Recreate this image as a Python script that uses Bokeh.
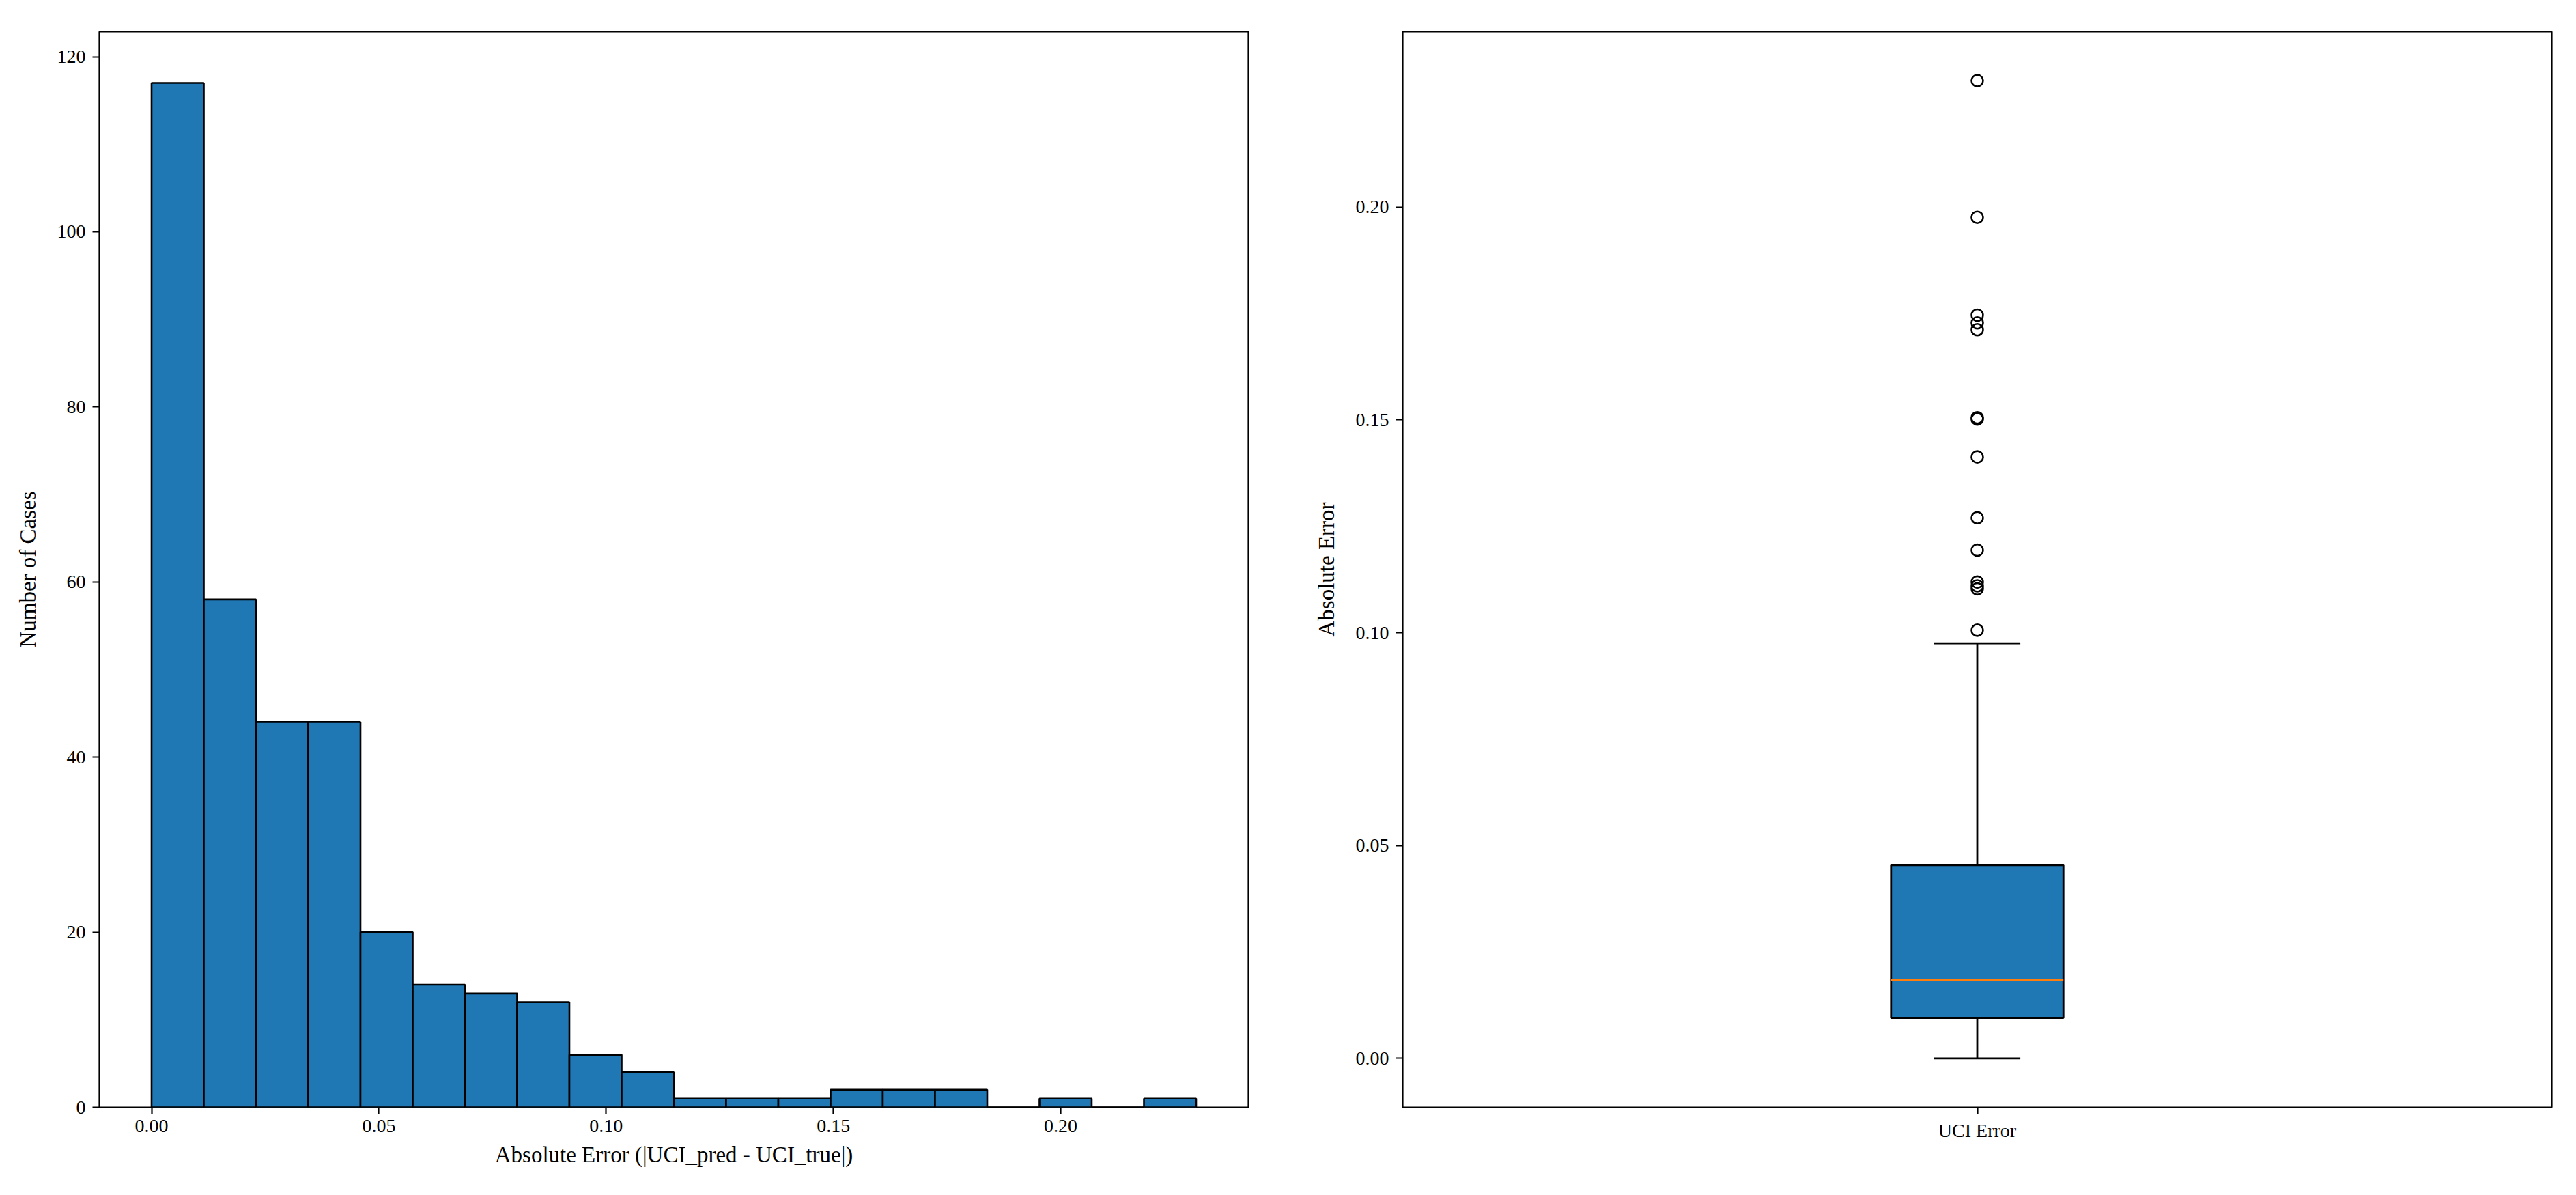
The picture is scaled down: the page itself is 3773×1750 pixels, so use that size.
import numpy as np
from bokeh.plotting import figure
from bokeh.layouts import row
from bokeh.models import Range1d, FixedTicker, NumeralTickFormatter, ColumnDataSource
from bokeh.embed import file_html
from bokeh.resources import INLINE

# ---------------- data ----------------
hist_counts = [117, 58, 44, 44, 20, 14, 13, 12, 6, 4, 1, 1, 1, 2, 2, 2, 0, 1, 0, 1]
err_min = 0.0
err_max = 0.2298

box_q1 = 0.0095
box_median = 0.0184
box_q3 = 0.0454
whisker_low = 0.0
whisker_high = 0.0975
outliers = [0.2297, 0.1976, 0.1746, 0.1728, 0.1712, 0.1505, 0.1502, 0.1413,
            0.1270, 0.1194, 0.1119, 0.1110, 0.1103, 0.1006]

hist_xticks = [0.0, 0.05, 0.10, 0.15, 0.20]
hist_yticks = [0, 20, 40, 60, 80, 100, 120]
box_yticks = [0.0, 0.05, 0.10, 0.15, 0.20]
box_category = "UCI Error"

# ---------------- style ----------------
FONT = "Liberation Serif"
BLUE = "#1f77b4"
ORANGE = "#ff7f0e"
TICK_SIZE = "28px"
LABEL_SIZE = "33px"


def style(p):
    p.outline_line_color = "black"
    p.outline_line_width = 2.2
    p.xgrid.visible = False
    p.ygrid.visible = False
    for ax in (p.xaxis, p.yaxis):
        ax.axis_line_color = None
        ax.major_tick_line_color = "black"
        ax.major_tick_line_width = 2.2
        ax.major_tick_out = 10
        ax.major_tick_in = 0
        ax.minor_tick_line_color = None
        ax.major_label_text_font = FONT
        ax.major_label_text_font_size = TICK_SIZE
        ax.major_label_text_color = "black"
        ax.axis_label_text_font = FONT
        ax.axis_label_text_font_size = LABEL_SIZE
        ax.axis_label_text_font_style = "normal"
        ax.axis_label_text_color = "black"
    p.xaxis.major_label_standoff = 8
    p.xaxis.axis_label_standoff = 12
    p.yaxis.major_label_standoff = 10
    p.yaxis.axis_label_standoff = 22
    p.yaxis.major_label_orientation = "horizontal"
    p.background_fill_color = "white"
    p.border_fill_color = "white"


# ---------------- histogram ----------------
edges = np.linspace(err_min, err_max, len(hist_counts) + 1)
margin_x = 0.05 * (err_max - err_min)
hist_src = ColumnDataSource(dict(left=edges[:-1], right=edges[1:],
                                 top=hist_counts, bottom=[0] * len(hist_counts)))

p1 = figure(width=1900, height=1750, output_backend="svg", toolbar_location=None,
            x_range=Range1d(err_min - margin_x, err_max + margin_x),
            y_range=Range1d(0, max(hist_counts) * 1.05),
            min_border_left=145, min_border_right=72, min_border_top=46,
            min_border_bottom=129)
p1.quad(left="left", right="right", top="top", bottom="bottom", source=hist_src,
        fill_color=BLUE, line_color="black", line_width=2.6)
style(p1)
p1.xaxis.ticker = FixedTicker(ticks=hist_xticks)
p1.xaxis.formatter = NumeralTickFormatter(format="0.00")
p1.yaxis.ticker = FixedTicker(ticks=hist_yticks)
p1.xaxis.axis_label = "Absolute Error (|UCI_pred - UCI_true|)"
p1.yaxis.axis_label = "Number of Cases"

# ---------------- box plot ----------------
pos = 1.0
box_w = 0.15
cap_w = box_w / 2
all_max = max(outliers + [whisker_high])
all_min = min([whisker_low, box_q1])
margin_y = 0.05 * (all_max - all_min)

p2 = figure(width=1873, height=1750, output_backend="svg", toolbar_location=None,
            x_range=Range1d(0.5, 1.5),
            y_range=Range1d(all_min - margin_y, all_max + margin_y),
            min_border_left=154, min_border_right=36, min_border_top=46,
            min_border_bottom=129)
# whiskers
p2.segment(x0=[pos, pos], y0=[box_q3, box_q1], x1=[pos, pos], y1=[whisker_high, whisker_low],
           line_color="black", line_width=2.8)
# caps
p2.segment(x0=[pos - cap_w / 2] * 2, y0=[whisker_high, whisker_low],
           x1=[pos + cap_w / 2] * 2, y1=[whisker_high, whisker_low],
           line_color="black", line_width=2.8)
# box
p2.quad(left=[pos - box_w / 2], right=[pos + box_w / 2], bottom=[box_q1], top=[box_q3],
        fill_color=BLUE, line_color="black", line_width=2.8)
# median
p2.segment(x0=[pos - box_w / 2], y0=[box_median], x1=[pos + box_w / 2], y1=[box_median],
           line_color=ORANGE, line_width=2.8)
# fliers
p2.scatter(x=[pos] * len(outliers), y=outliers, marker="circle", size=17,
           fill_color=None, line_color="black", line_width=2.6)
style(p2)
p2.xaxis.ticker = FixedTicker(ticks=[pos])
p2.xaxis.major_label_overrides = {pos: box_category}
p2.yaxis.ticker = FixedTicker(ticks=box_yticks)
p2.yaxis.formatter = NumeralTickFormatter(format="0.00")
p2.yaxis.axis_label = "Absolute Error"

layout = row(p1, p2)
open("out.html", "w").write(file_html(layout, INLINE))
